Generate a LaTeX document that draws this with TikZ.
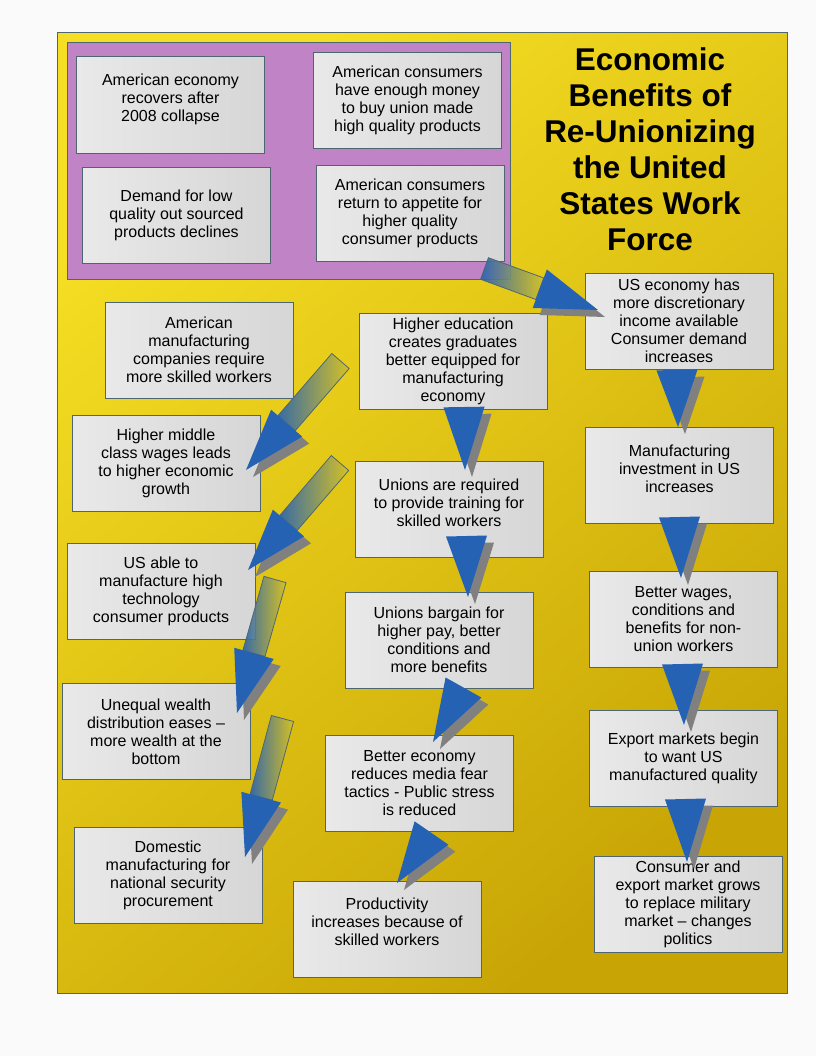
\documentclass[tikz,border=0pt]{standalone}
\usepackage{fontspec}
\setmainfont{Liberation Sans}
\usetikzlibrary{calc}
\definecolor{papel}{RGB}{250,250,250}
\definecolor{amarillo}{RGB}{245,222,35}
\definecolor{ocre}{RGB}{200,165,5}
\definecolor{malva}{RGB}{192,132,198}
\definecolor{borde}{RGB}{78,102,112}
\definecolor{grisc}{RGB}{233,233,233}
\definecolor{grisd}{RGB}{214,214,214}
\definecolor{azul}{RGB}{38,98,180}
\definecolor{sombra}{RGB}{128,128,128}
\definecolor{oliva}{RGB}{212,192,40}
\newcommand{\sube}[1]{\\[#1]\mbox{}}
\newcommand{\cabeza}[2]{% base, apex
  \begin{scope}[transform canvas={shift={(7,7)}}]
    \fill[somb] ($(#1)!15.4pt!90:(#2)$) -- ($(#1)!15.4pt!-90:(#2)$) -- (#2) -- cycle;
  \end{scope}
  \fill[punta] ($(#1)!15.4pt!90:(#2)$) -- ($(#1)!15.4pt!-90:(#2)$) -- (#2) -- cycle;
}
\newcommand{\flecha}[2]{% tail, apex
  \coordinate (#1b) at ($(#2)!46.5pt!(#1)$);
  \shadedraw[cuerpo] ($(#1)!8.6pt!90:(#2)$) -- ($(#1)!8.6pt!-90:(#2)$)
    -- ($(#1b)!8.6pt!-90:(#2)$) -- ($(#1b)!8.6pt!90:(#2)$) -- cycle;
  \cabeza{#1b}{#2}
}
\tikzset{
  caja/.style={draw=borde, line width=0.75pt, left color=grisc, right color=grisd,
    minimum width=141pt, minimum height=72pt, inner sep=0pt, align=center,
    font=\fontsize{12pt}{13.5pt}\selectfont},
  titulo/.style={align=center, inner sep=0pt, font=\fontsize{23.6pt}{27pt}\selectfont\bfseries},
  punta/.style={fill=azul},
  somb/.style={fill=sombra},
  cuerpo/.style={draw=borde, line width=0.6pt, left color=azul, right color=oliva, fill opacity=0.9},
}

\begin{document}
\begin{tikzpicture}[x=0.75pt, y=-0.75pt]
  \useasboundingbox (0,0) rectangle (816,1056);
  \fill[papel] (0,0) rectangle (816,1056);
  % fondo y panel
  \shadedraw[top color=amarillo, bottom color=ocre, shading angle=40, draw=borde, line width=0.75pt]
    (57,33) rectangle (787,993);
  \draw[borde, fill=malva, line width=0.75pt] (67,43) rectangle (510,279);
  \node[titulo] (titulo) at (650,149.5) {Economic\\Benefits of\\Re-Unionizing\\the United\\States Work\\Force};

  % cajas del panel
  \node[caja] (recupera) at (170.5,105) {American economy\\recovers after\\2008 collapse\sube{-3pt}};
  \node[caja] (dinero) at (407.5,100.5) {American consumers\\have enough money\\to buy union made\\high quality products};
  \node[caja] (demanda) at (176.5,215) {Demand for low\\quality out sourced\\products declines};
  \node[caja] (apetito) at (410,213) {American consumers\\return to appetite for\\higher quality\\consumer products};

  % columna izquierda
  \node[caja] (empresas) at (199,350) {American\\manufacturing\\companies require\\more skilled workers};
  \node[caja] (salarios) at (166,463.5) {Higher middle\\class wages leads\\to higher economic\\growth};
  \node[caja] (tecno) at (161,591) {US able to\\manufacture high\\technology\\consumer products};
  \node[caja] (riqueza) at (156,731.5) {Unequal wealth\\distribution eases --\\more wealth at the\\bottom};
  \node[caja] (defensa) at (168,875) {Domestic\\manufacturing for\\national security\\procurement};

  % columna central
  \node[caja] (educa) at (453,361) {Higher education\\creates graduates\\better equipped for\\manufacturing\\economy};
  \node[caja] (formacion) at (449,509.5) {Unions are required\\to provide training for\\skilled workers\sube{-3pt}};
  \node[caja] (negocian) at (439,640) {Unions bargain for\\higher pay, better\\conditions and\\more benefits};
  \node[caja] (miedo) at (419.5,783) {Better economy\\reduces media fear\\tactics - Public stress\\is reduced};
  \node[caja] (producto) at (387,929) {Productivity\\increases because of\\skilled workers\sube{-3pt}};

  % columna derecha
  \node[caja] (ingreso) at (679,321) {US economy has\\more discretionary\\income available\\Consumer demand\\increases};
  \node[caja] (inversion) at (679.5,475.5) {Manufacturing\\investment in US\\increases\sube{-3pt}};
  \node[caja] (nosindic) at (683.5,619) {Better wages,\\conditions and\\benefits for non-\\union workers};
  \node[caja] (exporta) at (683.5,758) {Export markets begin\\to want US\\manufactured quality};
  \node[caja] (politica) at (688,904) {Consumer and\\export market grows\\to replace military\\market -- changes\\politics};

  % flechas con cuerpo
  \coordinate (f1) at (484.5,268.5);  \coordinate (f1p) at (598,310);
  \coordinate (f2) at (340.5,361);    \coordinate (f2p) at (246,470);
  \coordinate (f3) at (340,463);      \coordinate (f3p) at (248,570);
  \coordinate (f4) at (275,579.5);    \coordinate (f4p) at (237,713);
  \coordinate (f5) at (282.5,718.5);  \coordinate (f5p) at (245,857);
  \flecha{f1}{f1p}
  \flecha{f2}{f2p}
  \flecha{f3}{f3p}
  \flecha{f4}{f4p}
  \flecha{f5}{f5p}

  % solo puntas
  \coordinate (c6) at (464,407);     \coordinate (c6p) at (465,470);
  \coordinate (c7) at (466.5,536);   \coordinate (c7p) at (468,597);
  \coordinate (c8) at (463.5,687.5); \coordinate (c8p) at (433,742);
  \coordinate (c9) at (431.5,833);   \coordinate (c9p) at (397,883);
  \coordinate (c10) at (677,370);    \coordinate (c10p) at (678,427);
  \coordinate (c11) at (679.5,517);  \coordinate (c11p) at (681,578);
  \coordinate (c12) at (682.5,664);  \coordinate (c12p) at (684,725);
  \coordinate (c13) at (685.5,799);  \coordinate (c13p) at (687,862);
  \cabeza{c6}{c6p}
  \cabeza{c7}{c7p}
  \cabeza{c8}{c8p}
  \cabeza{c9}{c9p}
  \cabeza{c10}{c10p}
  \cabeza{c11}{c11p}
  \cabeza{c12}{c12p}
  \cabeza{c13}{c13p}
\end{tikzpicture}
\end{document}
